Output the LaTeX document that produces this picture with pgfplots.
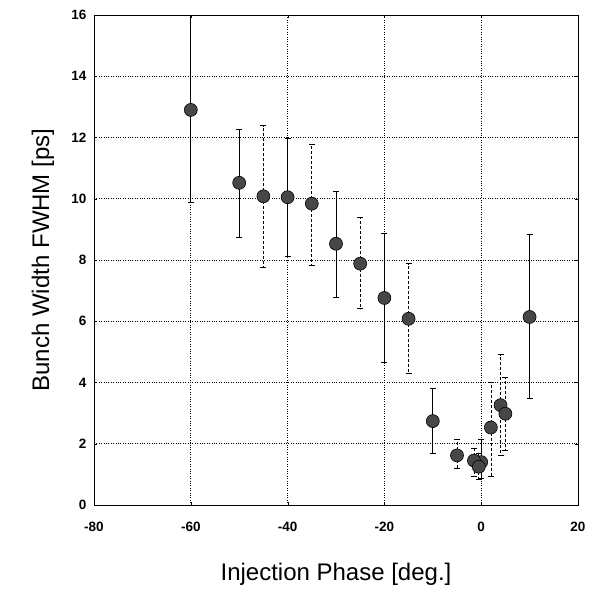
\documentclass[border=0pt]{standalone}
\usepackage{pgfplots}
\pgfplotsset{compat=1.18}
\usepackage{pgfplotstable}
\usepackage{fontspec}
\setmainfont{Liberation Sans}

% x  y  err+  err-
\pgfplotstableread{
x     y     ep    em
-60   12.90 3.10  3.03
-50   10.52 1.76  1.77
-40   10.05 1.93  1.92
-30   8.53  1.72  1.74
-20   6.76  2.10  2.09
-10   2.74  1.06  1.06
0     1.40  0.74  0.54
10    6.14  2.70  2.67
}\solid

\pgfplotstableread{
x     y     ep    em
-45   10.08 2.31  2.33
-35   9.84  1.95  2.02
-25   7.88  1.50  1.47
-15   6.08  1.80  1.79
-5    1.62  0.52  0.43
-1.5  1.45  0.40  0.50
-0.5  1.25  0.45  0.40
2     2.53  1.49  1.59
4     3.26  1.65  1.64
5     2.98  1.20  1.19
}\dashed

\begin{document}
\begin{tikzpicture}
\useasboundingbox (-94pt,-86pt) rectangle (496pt,505pt);
\begin{axis}[
  scale only axis,
  width=484pt, height=490pt,
  xmin=-80, xmax=20, ymin=0, ymax=16,
  xtick={-80,-60,...,20}, ytick={0,2,...,16},
  grid=major,
  major grid style={black, dotted, line width=0.7pt},
  axis line style={black, line width=0.9pt},
  tick style={black},
  major tick length=3pt,
  tick align=inside,
  tick label style={font=\fontsize{13.5}{15}\selectfont\bfseries},
  /pgf/number format/assume math mode=true,
  xticklabel style={yshift=-14pt},
  yticklabel style={xshift=-4pt},
  xlabel={Injection Phase [deg.]},
  ylabel={Bunch Width FWHM [ps]},
  label style={font=\fontsize{24}{28}\selectfont},
  xlabel style={at={(axis description cs:0.5,0)}, anchor=center, yshift=-69pt},
  ylabel style={at={(axis description cs:0,0.5)}, anchor=center, rotate=0, yshift=51pt},
]
\addplot[only marks, black, mark=*, mark size=6.5pt,
  mark options={solid, draw=black, fill=black!72, line width=0.6pt},
  error bars/.cd, y dir=both, y explicit,
  error bar style={solid, line width=0.7pt, black},
  error mark options={rotate=90, mark size=3pt, black, line width=0.7pt}]
  table[x=x, y=y, y error plus=ep, y error minus=em] {\solid};
\addplot[only marks, black, mark=*, mark size=6.5pt,
  mark options={solid, draw=black, fill=black!72, line width=0.6pt},
  error bars/.cd, y dir=both, y explicit,
  error bar style={densely dashed, line width=0.7pt, black},
  error mark options={rotate=90, mark size=3pt, black, solid, line width=0.7pt}]
  table[x=x, y=y, y error plus=ep, y error minus=em] {\dashed};
\end{axis}
\end{tikzpicture}
\end{document}
